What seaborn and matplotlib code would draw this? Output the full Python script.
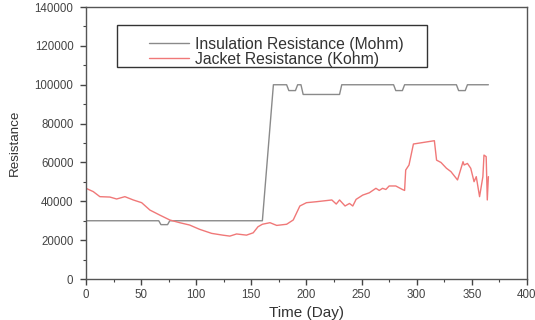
import matplotlib
matplotlib.use("Agg")
import matplotlib.pyplot as plt
import seaborn as sns
import pandas as pd
from matplotlib.ticker import MultipleLocator
from matplotlib.patches import Rectangle

# Insulation Resistance (Mohm)
ins_day = [0, 66, 68, 74, 76, 160, 170, 182, 184, 190, 192, 195, 197, 230, 232,
           279, 281, 287, 289, 336, 338, 344, 346, 365]
ins_val = [30000, 30000, 28000, 28000, 30000, 30000, 100000, 100000, 97000, 97000, 100000,
           100000, 95000, 95000, 100000, 100000, 97000, 97000, 100000, 100000, 97000,
           97000, 100000, 100000]

# Jacket Resistance (Kohm)
jac_day = [0, 6.6, 12.6, 21.7, 27.8, 35.3, 42.9, 50.5, 58, 67, 76, 85, 94, 103, 114,
           124, 130.5, 136.6, 145.6, 151.7, 156, 160, 166.9, 173, 182, 188, 194, 200,
           209, 223, 227, 230, 235, 239, 242, 245, 251, 257, 263, 266, 269, 272, 275,
           281, 287, 289, 290, 293, 297, 316, 318, 322, 327, 331, 337, 342, 343, 346,
           349, 352, 354, 357, 360, 361, 363, 364, 365]
jac_val = [46700, 45000, 42400, 42200, 41200, 42400, 40700, 39300, 35500, 32900, 30400,
           29000, 27800, 25600, 23500, 22600, 22100, 23200, 22600, 23800, 26900, 28200,
           29000, 27600, 28200, 30400, 37600, 39300, 39800, 40700, 38600, 40700, 37600,
           38900, 37600, 41000, 43200, 44400, 46700, 45600, 46700, 46100, 47900, 47900,
           46100, 45600, 56100, 58700, 69500, 71200, 61200, 60000, 57000, 55300, 51000,
           60400, 58700, 59500, 57000, 50100, 52700, 42400, 52700, 63800, 63000, 40700,
           52700]

ins = pd.DataFrame({"day": ins_day, "val": ins_val})
jac = pd.DataFrame({"day": jac_day, "val": jac_val})

sns.set_theme(style="ticks")
plt.rcParams["font.family"] = ["Liberation Sans", "DejaVu Sans"]

fig = plt.figure(figsize=(5.35, 3.2), dpi=100)
ax = fig.add_axes([0.1607, 0.128, 0.8243, 0.85])

sns.lineplot(data=ins, x="day", y="val", ax=ax, color="#8a8a8a", lw=1.0,
             label="Insulation Resistance (Mohm)", estimator=None, sort=False)
sns.lineplot(data=jac, x="day", y="val", ax=ax, color="#f07878", lw=1.0,
             label="Jacket Resistance (Kohm)", estimator=None, sort=False)

ax.set_xlim(0, 400)
ax.set_ylim(0, 140000)
ax.xaxis.set_major_locator(MultipleLocator(50))
ax.xaxis.set_minor_locator(MultipleLocator(25))
ax.yaxis.set_major_locator(MultipleLocator(20000))
ax.yaxis.set_minor_locator(MultipleLocator(10000))
ax.tick_params(which="major", length=4, width=1, colors="#444444", labelsize=8.3,
               labelcolor="#444444", direction="out")
ax.tick_params(axis="y", which="major", pad=5)
ax.tick_params(which="minor", length=2, width=0.8, colors="#444444", direction="out")
for s in ax.spines.values():
    s.set_color("#555555")
    s.set_linewidth(1.0)

ax.set_xlabel("Time (Day)", fontsize=11, color="#333333", labelpad=3)
ax.set_ylabel("Resistance", fontsize=9.6, color="#333333", labelpad=10)

# legend frame drawn separately (asymmetric padding in the reference)
ax.add_patch(Rectangle((0.0703, 0.779), 0.7029, 0.155, transform=ax.transAxes,
                       fill=False, edgecolor="#333333", lw=1.0, zorder=5))
leg = ax.legend(loc="upper left", bbox_to_anchor=(0.144, 0.89), fontsize=11.3,
                frameon=False, handlelength=2.5, borderpad=0, borderaxespad=0,
                labelspacing=0.0, handletextpad=0.4)
for t in leg.get_texts():
    t.set_color("#333333")

fig.savefig("out.png", dpi=100)
